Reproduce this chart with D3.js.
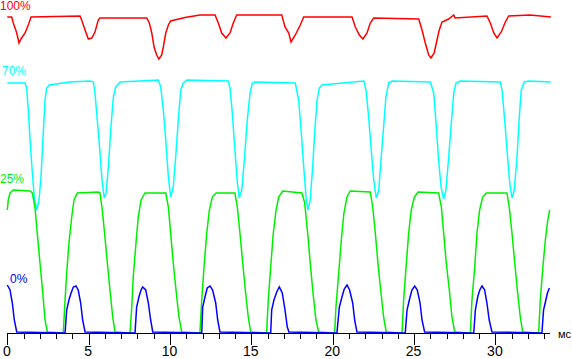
<!DOCTYPE html>
<html><head><meta charset="utf-8">
<script src="https://cdn.jsdelivr.net/npm/d3@7"></script>
<style>html,body{margin:0;padding:0;background:#fff;}svg{display:block;}</style>
</head><body>
<svg id="c" width="572" height="359"></svg>
<script>
// time in ms, value = trace height (arbitrary units above the time axis)
const redT = [0,0.27,0.37,0.58,0.72,0.84,1.09,1.29,1.46,2.93,4.47,4.57,4.78,4.98,5.19,5.39,5.59,5.70,8.57,8.73,8.88,9.02,9.18,9.32,9.49,9.59,9.74,9.90,10.04,10.92,11.84,12.77,12.97,13.18,13.44,13.69,13.89,14.10,16.87,17.07,17.30,17.44,17.70,18.01,18.22,21.19,21.39,21.64,21.86,22.11,22.31,22.52,25.29,25.49,25.69,25.90,26.04,26.24,26.41,26.55,26.72,27.13,27.44,27.52,29.48,29.69,29.90,30.10,30.36,30.61,30.82,32.13,33.41];
const redV = [316,316,310,300,290,294,300,308,316,316.5,317,313,303,294,295,301,313,315,315,310,300,286,278,274,278,286,300,308,312,315.5,318,318,310,300,295,300,310,318,318,306,300,291,298,308,316,316,306,298,294,300,310,315,314,303,290,278,275,280,293,303,311,314,318,315,317,310,300,295,301,311,317,318,316];

const cyanT = [0,1.09,1.19,1.29,1.40,1.54,1.66,1.81,1.95,2.07,2.21,2.32,2.42,2.58,3.85,5.08,5.29,5.39,5.53,5.70,5.82,5.96,6.07,6.21,6.37,6.52,6.66,6.93,9.28,9.43,9.59,9.74,9.90,10.04,10.20,10.35,10.51,10.66,10.82,11.03,13.58,13.69,13.83,13.99,14.14,14.26,14.41,14.57,14.75,14.92,15.06,15.22,17.70,17.91,18.07,18.22,18.36,18.48,18.62,18.77,18.89,19.04,19.18,19.34,21.91,22.05,22.21,22.37,22.52,22.68,22.83,22.97,23.13,23.27,23.44,23.64,26.00,26.21,26.37,26.51,26.66,26.82,26.96,27.13,27.29,27.44,27.58,27.84,30.30,30.41,30.57,30.73,30.88,31.02,31.16,31.33,31.47,31.59,31.78,32.05,33.41];
const cyanV = [250,250,245,223,193,160,136,123,133,156,200,233,245,248,251,252,251,240,213,180,153,135,140,166,206,236,246,251,253,246,223,193,156,136,146,176,213,243,250,253,252,245,220,183,150,135,143,173,213,240,250,251,250,233,200,166,136,123,133,166,200,233,245,248,252,243,216,183,153,135,143,173,206,236,250,252,251,240,206,173,146,134,143,176,210,240,250,252,251,243,213,180,150,135,143,176,216,243,251,252,251];

const greenT = [0,0.06,0.17,0.37,1.40,1.54,1.70,1.84,2.01,2.18,2.32,2.46,3.44,3.55,3.65,3.79,3.96,4.10,4.30,5.59,5.70,5.84,6.00,6.15,6.31,6.48,6.62,7.54,7.65,7.74,7.91,8.05,8.22,8.46,9.74,9.90,10.04,10.20,10.37,10.55,10.72,11.84,11.95,12.09,12.26,12.42,12.60,12.83,13.99,14.14,14.30,14.47,14.63,14.81,14.96,15.94,16.04,16.19,16.35,16.52,16.68,16.93,18.11,18.28,18.46,18.62,18.79,18.97,19.14,20.12,20.20,20.37,20.53,20.69,20.88,21.08,22.31,22.46,22.62,22.78,22.95,23.13,23.29,24.26,24.36,24.51,24.67,24.83,25.02,25.24,26.51,26.68,26.82,26.98,27.17,27.33,27.50,28.46,28.56,28.73,28.87,29.03,29.22,29.44,30.71,30.85,31.02,31.19,31.35,31.53,31.68,32.66,32.76,32.92,33.07,33.22,33.34];
const greenV = [123,133,140,143,142,140,126,100,70,40,13,1,0,33,60,90,116,133,140,141,140,123,96,70,43,16,1,0,26,56,90,116,133,140,140,126,100,70,43,16,1,0,33,66,100,123,136,140,140,126,100,70,43,16,1,0,33,66,100,123,136,142,140,130,100,70,40,13,1,0,26,60,93,120,136,142,141,126,100,70,43,16,1,0,33,66,100,123,136,141,140,126,100,70,43,16,1,0,33,66,100,123,136,140,140,126,100,70,43,16,1,0,33,66,93,113,123];

const blueT = [0,0.17,0.31,0.43,0.58,3.55,3.65,3.79,3.92,4.06,4.22,4.36,4.51,4.63,4.78,7.85,7.95,8.09,8.22,8.32,8.51,8.67,8.81,8.94,11.95,12.01,12.15,12.29,12.46,12.62,12.81,12.93,13.07,16.19,16.25,16.39,16.56,16.72,16.90,17.07,17.21,17.31,20.26,20.41,20.57,20.71,20.88,21.04,21.23,21.35,21.49,24.46,24.57,24.71,24.87,25.04,25.20,25.37,25.49,25.65,28.67,28.77,28.91,29.04,29.18,29.34,29.48,29.62,29.79,32.86,32.96,33.06,33.20,33.32];
const blueV = [48,43,30,13,1,0,23,33,40,46,47,43,30,13,1,0,26,36,43,46,43,30,13,1,0,26,36,45,47,43,30,13,1,0,23,33,41,46,40,23,6,1,0,26,36,44,48,43,30,13,1,0,23,33,43,47,43,30,13,1,0,23,36,43,47,43,30,13,1,0,23,30,40,45];

const levelLabels = ["100%","70%","25%","0%"];
const tickLabels = ["0","5","10","15","20","25","30"];
const unitLabel = "мс";

const svg = d3.select("#c");
const x = d3.scaleLinear().domain([0, 33]).range([7.3, 544.2]);
const y = d3.scaleLinear().domain([0, 333]).range([333, 0]);

const series = [
  {t: redT, v: redV, c: "#ff0000"},
  {t: cyanT, v: cyanV, c: "#00ffff"},
  {t: greenT, v: greenV, c: "#00ee00"},
  {t: blueT, v: blueV, c: "#0000ff"}
];
const line = d3.line().x(d => x(d[0])).y(d => y(d[1]));
series.forEach(s => {
  svg.append("path")
    .datum(s.t.map((t, i) => [t, s.v[i]]))
    .attr("d", line)
    .attr("fill", "none")
    .attr("stroke", s.c)
    .attr("stroke-width", 1.5);
});

// axis
const axisG = svg.append("g").attr("transform", "translate(0,333)");
axisG.append("line").attr("x1", 7).attr("x2", 550).attr("y1", 0.5).attr("y2", 0.5)
  .attr("stroke", "#000").attr("stroke-width", 1);
const ticks = d3.range(0, 34);
axisG.selectAll("line.t").data(ticks).join("line").attr("class", "t")
  .attr("x1", d => Math.round(x(d)) + 0.5).attr("x2", d => Math.round(x(d)) + 0.5)
  .attr("y1", 0).attr("y2", d => d % 5 === 0 ? 12 : 6)
  .attr("stroke", "#000").attr("stroke-width", 1);
svg.selectAll("text.tl").data(tickLabels).join("text").attr("class", "tl")
  .attr("x", d => x(+d) - 0.5).attr("y", 355.5)
  .attr("text-anchor", "middle")
  .attr("font-family", "Liberation Sans, Arial, sans-serif")
  .attr("font-size", 14).attr("fill", "#000").text(d => d);
svg.append("text").attr("x", 558).attr("y", 337.5)
  .attr("font-family", "Liberation Sans, Arial, sans-serif")
  .attr("font-size", 11).attr("fill", "#000").text(unitLabel);

// level labels
const labelPos = [[0, 10, "#ff0000"], [2, 75, "#00ffff"], [0, 183, "#00ee00"], [10, 283, "#0000ff"]];
svg.selectAll("text.lv").data(levelLabels).join("text").attr("class", "lv")
  .attr("x", (d, i) => labelPos[i][0]).attr("y", (d, i) => labelPos[i][1])
  .attr("fill", (d, i) => labelPos[i][2])
  .attr("font-family", "Liberation Sans, Arial, sans-serif")
  .attr("font-size", 12).text(d => d);
</script>
</body></html>
